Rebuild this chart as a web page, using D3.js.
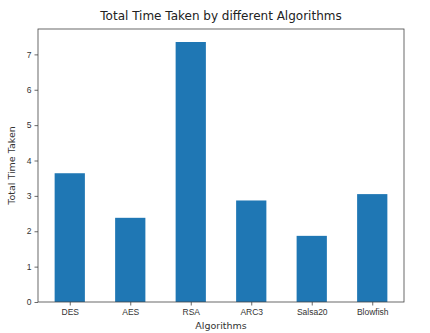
<!DOCTYPE html>
<html>
<head>
<meta charset="utf-8">
<script src="https://cdn.jsdelivr.net/npm/d3@7"></script>
<style>
  body { margin: 0; background: #fff; }
  svg { display: block; font-family: "DejaVu Sans", sans-serif; }
</style>
</head>
<body>
<svg id="chart" width="430" height="333"></svg>
<script>
// Total time per algorithm
const algorithms = ["DES", "AES", "RSA", "ARC3", "Salsa20", "Blowfish"];
const timeTaken = [3.64, 2.38, 7.35, 2.87, 1.87, 3.05];
const yTicks = [0, 1, 2, 3, 4, 5, 6, 7];

const svg = d3.select("#chart");
const margin = { left: 38, right: 26, top: 29, bottom: 31 };
const W = 430, H = 333;
const innerW = W - margin.left - margin.right;
const innerH = H - margin.top - margin.bottom;

const g = svg.append("g").attr("transform", `translate(${margin.left},${margin.top})`);

// matplotlib-style bar layout: width 0.5, 5% margins
const barW = 0.5;
const lo = -barW / 2, hi = algorithms.length - 1 + barW / 2;
const pad = (hi - lo) * 0.05;
const x = d3.scaleLinear().domain([lo - pad, hi + pad]).range([0, innerW]);
const y = d3.scaleLinear().domain([0, d3.max(timeTaken) * 1.05]).range([innerH, 0]);

g.selectAll("rect.bar")
  .data(timeTaken)
  .join("rect")
  .attr("class", "bar")
  .attr("x", (d, i) => x(i - barW / 2))
  .attr("width", (d, i) => x(i + barW / 2) - x(i - barW / 2))
  .attr("y", d => y(d))
  .attr("height", d => y(0) - y(d))
  .attr("fill", "#1f77b4");

// frame
g.append("rect")
  .attr("x", 0).attr("y", 0).attr("width", innerW).attr("height", innerH)
  .attr("fill", "none").attr("stroke", "#444").attr("stroke-width", 0.8);

// axes
const yAxis = d3.axisLeft(y).tickValues(yTicks).tickFormat(d3.format("d")).tickSize(3.5).tickPadding(3);
const xAxis = d3.axisBottom(x).tickValues(d3.range(algorithms.length))
  .tickFormat(i => algorithms[i]).tickSize(3.5).tickPadding(3);

const ya = g.append("g").call(yAxis);
const xa = g.append("g").attr("transform", `translate(0,${innerH})`).call(xAxis);
[ya, xa].forEach(a => {
  a.select(".domain").remove();
  a.selectAll("line").attr("stroke", "#444").attr("stroke-width", 0.8);
  a.selectAll("text").attr("fill", "#333").style("font-size", "8.5px");
});

// labels
svg.append("text")
  .attr("x", margin.left + innerW / 2).attr("y", 20)
  .attr("text-anchor", "middle").attr("fill", "#222")
  .style("font-size", "12px")
  .text("Total Time Taken by different Algorithms");

svg.append("text")
  .attr("x", margin.left + innerW / 2).attr("y", 329)
  .attr("text-anchor", "middle").attr("fill", "#333")
  .style("font-size", "9.5px")
  .text("Algorithms");

svg.append("text")
  .attr("transform", `translate(15,${margin.top + innerH / 2}) rotate(-90)`)
  .attr("text-anchor", "middle").attr("fill", "#333")
  .style("font-size", "9.5px")
  .text("Total Time Taken");
</script>
</body>
</html>
